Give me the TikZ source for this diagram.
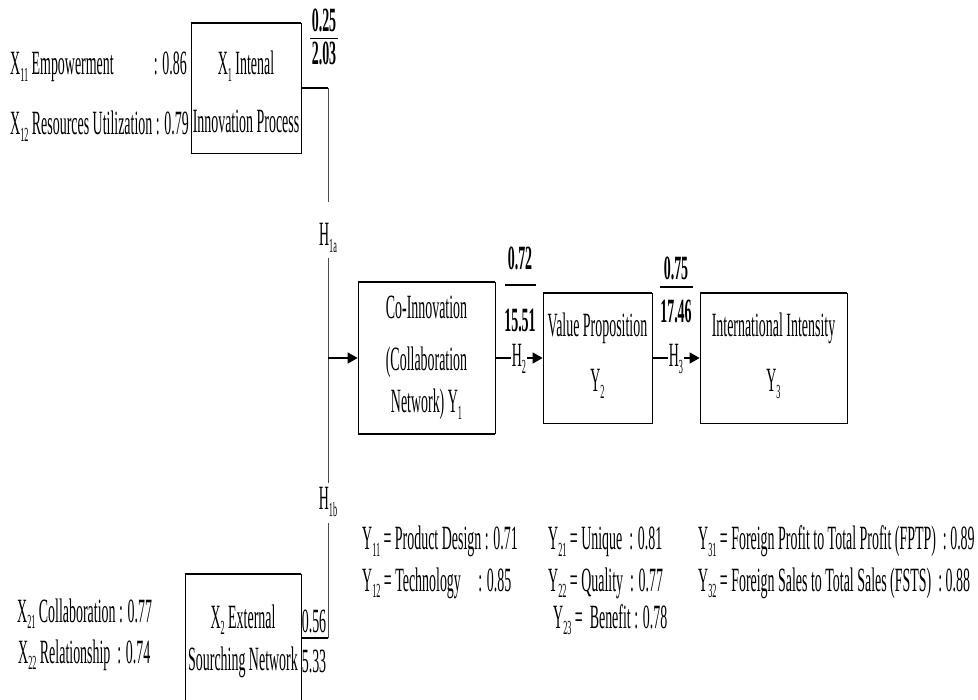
\documentclass[tikz,border=0pt]{standalone}
\usepackage{fontspec}
\setmainfont[FakeStretch=0.41]{Liberation Serif}
\usetikzlibrary{arrows.meta}
\newcommand\ssb[1]{\raisebox{-0.4ex}{\fontsize{20}{20}\selectfont #1}}
\begin{document}
\begin{tikzpicture}[x=1pt,y=-1pt,
  box/.style={draw, line width=0.7pt, inner sep=0pt},
  txt/.style={inner sep=0pt, anchor=base, font=\fontsize{34}{40}\selectfont},
  lbl/.style={txt, anchor=base west},
  num/.style={txt, font=\fontsize{34}{40}\selectfont\bfseries},
  thin/.style={line width=0.6pt, black!70},
  thick/.style={line width=1.2pt},
  arr/.style={line width=1.3pt, -{Triangle[length=10pt,width=11pt]}}
]
\useasboundingbox (0,0) rectangle (978,700);

% boxes
\node (x1) [box, minimum width=110pt, minimum height=130pt] at (246,88) {};
\node (coi) [box, minimum width=137pt, minimum height=151pt] at (426.5,358) {};
\node (vp) [box, minimum width=109pt, minimum height=130pt] at (597.5,358) {};
\node (ii) [box, minimum width=147pt, minimum height=130pt] at (773.5,358) {};
\node (x2) [box, minimum width=116pt, minimum height=134pt] at (243,641) {};
\foreach \b in {x1,coi,vp,ii,x2}{
  \draw[line width=1.4pt] (\b.north west) -- (\b.north east);
  \draw[line width=1.4pt] (\b.south west) -- (\b.south east);
}

% box texts
\node (x1a) [txt] at (246,75) {X\ssb{1} Intenal};
\node (x1b) [txt] at (246,133) {Innovation Process};
\node (coia) [txt] at (426.5,319) {Co-Innovation};
\node (coib) [txt] at (426.5,371) {(Collaboration};
\node (coic) [txt] at (426.5,413) {Network) Y\ssb{1}};
\node (vpa) [txt] at (597.5,337) {Value Proposition};
\node (vpb) [txt] at (597.5,392) {Y\ssb{2}};
\node (iia) [txt] at (773.5,337) {International Intensity};
\node (iib) [txt] at (773.5,392) {Y\ssb{3}};
\node (x2a) [txt] at (243,628) {X\ssb{2} External};
\node (x2b) [txt] at (243,670) {Sourching Network};

% left indicator labels
\node (l11) [lbl] at (10,75) {X\ssb{11} Empowerment};
\node (l11v) [txt, anchor=base east] at (187,75) {: 0.86};
\node (l12) [lbl] at (10,135) {X\ssb{12} Resources Utilization : 0.79};
\node (l21) [lbl] at (17,622) {X\ssb{21} Collaboration : 0.77};
\node (l22) [lbl] at (18,663) {X\ssb{22} Relationship\ \ : 0.74};

% Y indicator labels
\node (y11) [lbl] at (362,550) {Y\ssb{11} = Product Design : 0.71};
\node (y12) [lbl] at (362,591) {Y\ssb{12} = Technology\ \ \ \ \ : 0.85};
\node (y21) [lbl] at (548,550) {Y\ssb{21} = Unique\ \ : 0.81};
\node (y22) [lbl] at (548,591) {Y\ssb{22} = Quality\ \ : 0.77};
\node (y23) [lbl] at (553,628) {Y\ssb{23} = \ Benefit : 0.78};
\node (y31) [lbl] at (698,550) {Y\ssb{31} = Foreign Profit to Total Profit (FPTP)\ \ : 0.89};
\node (y32) [lbl] at (698,591) {Y\ssb{32} = Foreign Sales to Total Sales (FSTS)\ \ : 0.88};

% hypothesis labels
\node (h1a) [txt] at (328,246) {H\ssb{1a}};
\node (h1b) [txt] at (328,510) {H\ssb{1b}};
\node (h2) [txt, inner xsep=1pt] at (519,367) {H\ssb{2}};
\node (h3) [txt, inner xsep=1pt] at (676,367) {H\ssb{3}};

% coefficients
\node (f1t) [num] at (324,32) {0.25};
\node (f1b) [num] at (324,65) {2.03};
\draw[thick] (310,38.5) -- (338,38.5);
\node (f2t) [num] at (520,270) {0.72};
\node (f2b) [num] at (520,332) {15.51};
\draw[thick] (505,285) -- (536,285);
\node (f3t) [num] at (676,280) {0.75};
\node (f3b) [num] at (676,323) {17.46};
\draw[thick] (660,287) -- (693,287);
\node (f4t) [txt] at (314,632) {0.56};
\node (f4b) [txt] at (314,672) {5.33};

% connectors
\coordinate (j1) at (328,88);
\coordinate (j2) at (328,358);
\coordinate (j3) at (328,638);
\coordinate (ta) at (328,202);
\coordinate (tb) at (328,258);
\coordinate (tc) at (328,483);
\coordinate (td) at (328,523);
\draw[thick] (x1.east) -- (j1);
\draw[thin] (j1) -- (ta);
\draw[thin] (tb) -- (tc);
\draw[thin] (td) -- (j3);
\draw[thick] (j3) -- (x2.east |- j3);
\draw[arr] (j2) -- (coi.west);
\draw[thick] (coi.east) -- (h2.west |- coi.east);
\draw[arr] (h2.east |- coi.east) -- (vp.west);
\draw[thick] (vp.east) -- (h3.west |- vp.east);
\draw[arr] (h3.east |- vp.east) -- (ii.west);
\end{tikzpicture}
\end{document}
